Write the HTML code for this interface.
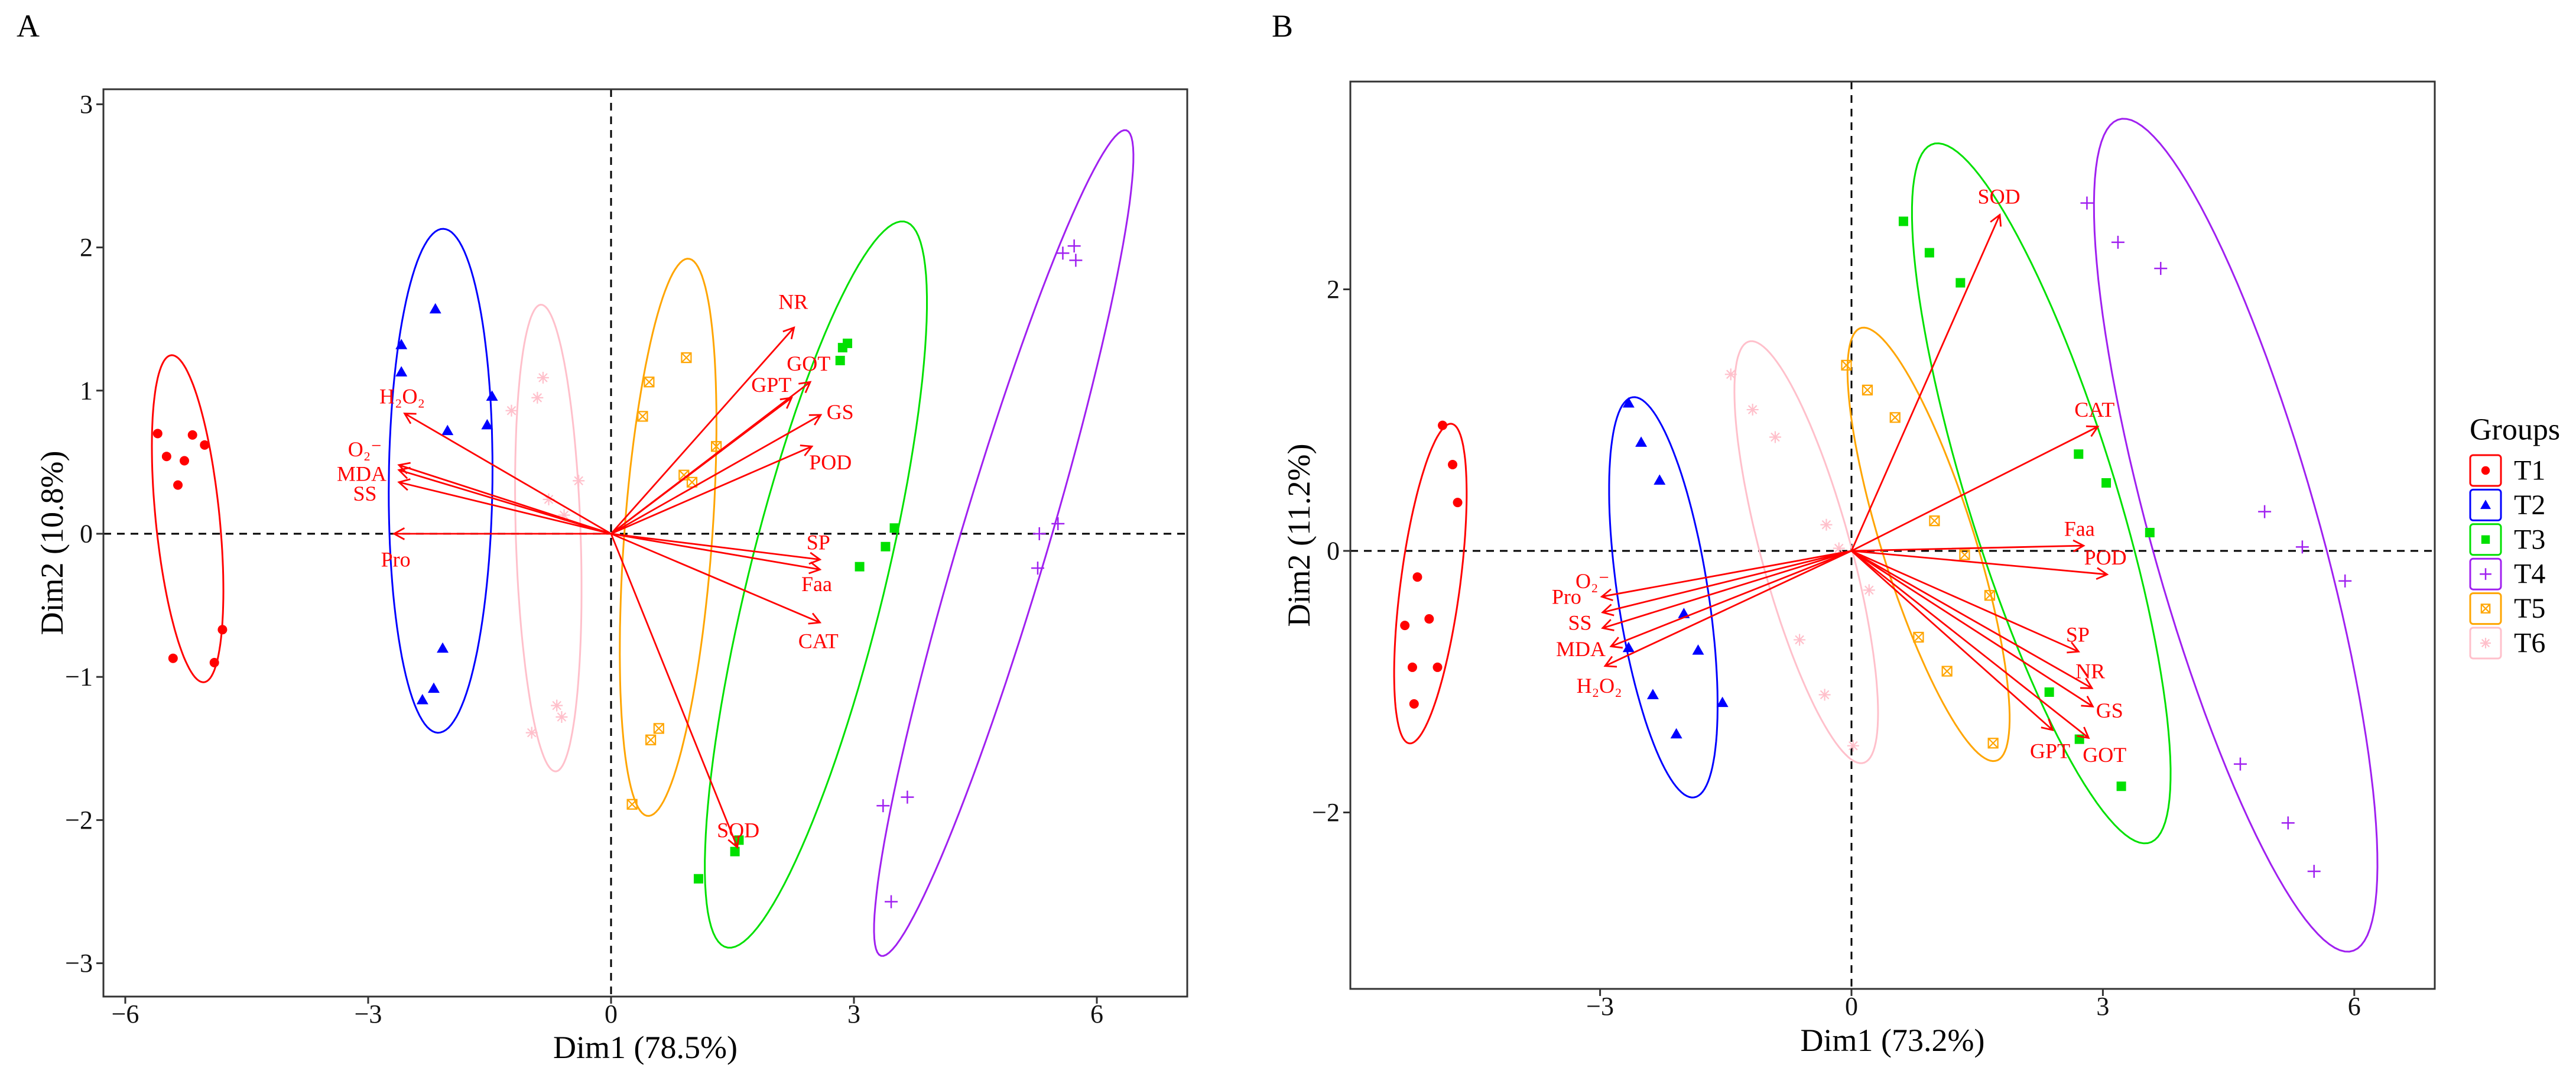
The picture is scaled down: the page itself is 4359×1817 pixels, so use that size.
<!DOCTYPE html>
<html><head><meta charset="utf-8">
<style>
html,body{margin:0;padding:0;background:#fff;}
svg{display:block;}
svg text{font-family:"Liberation Serif","DejaVu Serif",serif;}
</style></head>
<body>
<svg id="chart" width="4359" height="1817" viewBox="0 0 4359 1817" xmlns="http://www.w3.org/2000/svg" font-family="Liberation Serif, DejaVu Serif, serif">
<defs>
<clipPath id="clipA"><rect x="175" y="151" width="1834" height="1535"/></clipPath>
<clipPath id="clipB"><rect x="2285" y="138" width="1835" height="1535"/></clipPath>
</defs>
<text x="28" y="62" font-size="54" font-family="Liberation Serif, serif">A</text>
<text x="2152" y="62" font-size="54" font-family="Liberation Serif, serif">B</text>
<g id="gA"></g>
<g id="gB"></g>
<g id="legend"></g>
</svg>
<script>
const groups = ['T1','T2','T3','T4','T5','T6'];
const groupColors = ['#ff0000','#0000ff','#00e000','#a020f0','#ffa500','#ffc0cb'];

// Panel A individuals
const ptsAx = [
 [-5.60,-5.49,-5.35,-5.27,-5.17,-5.02,-5.41,-4.90,-4.80],
 [-2.17,-2.59,-2.59,-1.47,-2.02,-1.53,-2.08,-2.19,-2.33],
 [2.92,2.86,2.83,3.50,3.39,3.07,1.58,1.53,1.08],
 [5.58,5.72,5.74,5.29,5.52,5.27,3.66,3.36,3.46],
 [0.93,0.47,0.39,1.30,0.90,1.00,0.59,0.49,0.26],
 [-0.84,-0.91,-1.23,-0.40,-0.77,-0.58,-0.67,-0.61,-0.98]];
const ptsAy = [
 [0.70,0.54,0.34,0.51,0.69,0.62,-0.87,-0.90,-0.67],
 [1.57,1.32,1.13,0.96,0.72,0.76,-0.80,-1.08,-1.16],
 [1.33,1.30,1.21,0.04,-0.09,-0.23,-2.14,-2.22,-2.41],
 [1.96,2.01,1.91,0.00,0.07,-0.24,-1.84,-1.90,-2.57],
 [1.23,1.06,0.82,0.61,0.41,0.36,-1.36,-1.44,-1.89],
 [1.09,0.95,0.86,0.37,0.24,0.13,-1.20,-1.28,-1.39]];
const ellACx = [-5.23,-2.105,2.53,4.85,0.705,-0.775];
const ellACy = [0.105,0.37,-0.355,-0.065,-0.025,-0.03];
const ellADx = [-0.22,0.035,1.17,1.54,0.265,-0.095];
const ellADy = [1.14,1.76,2.515,2.875,1.945,1.63];
const ellAB  = [0.39,0.64,0.79,0.50,0.54,0.40];
const varsA = ['NR','GOT','GPT','GS','POD','H₂O₂','O₂⁻','MDA','SS','Pro','SP','Faa','CAT','SOD'];
const varAx = [2.26,2.46,2.23,2.59,2.48,-2.55,-2.62,-2.62,-2.62,-2.68,2.58,2.58,2.58,1.56];
const varAy = [1.44,1.06,0.95,0.83,0.61,0.84,0.48,0.445,0.36,0.0,-0.18,-0.25,-0.62,-2.19];
const labAx = [2.25,2.44,1.98,2.83,2.71,-2.58,-3.04,-3.08,-3.04,-2.66,2.56,2.54,2.56,1.57];
const labAy = [1.62,1.19,1.04,0.85,0.50,0.96,0.59,0.42,0.28,-0.18,-0.06,-0.35,-0.75,-2.07];
const ticksAx = [-6,-3,0,3,6];
const ticksAy = [-3,-2,-1,0,1,2,3];

// Panel B individuals
const ptsBx = [
 [-4.88,-4.76,-4.70,-5.18,-5.33,-5.04,-5.24,-4.94,-5.22],
 [-2.66,-2.51,-2.29,-2.00,-2.66,-1.83,-2.37,-2.09,-1.54],
 [0.62,0.93,1.30,2.71,3.04,3.56,2.36,2.72,3.22],
 [2.81,3.18,3.69,4.93,5.38,5.89,4.64,5.21,5.52],
 [-0.06,0.19,0.52,0.99,1.35,1.65,0.80,1.14,1.69],
 [-1.44,-1.18,-0.91,-0.30,-0.15,0.21,-0.62,-0.32,0.02]];
const ptsBy = [
 [0.96,0.66,0.37,-0.20,-0.57,-0.52,-0.89,-0.89,-1.17],
 [1.13,0.83,0.54,-0.48,-0.74,-0.76,-1.10,-1.40,-1.16],
 [2.52,2.28,2.05,0.74,0.52,0.14,-1.08,-1.44,-1.80],
 [2.66,2.36,2.16,0.30,0.03,-0.23,-1.63,-2.08,-2.45],
 [1.42,1.23,1.02,0.23,-0.03,-0.34,-0.66,-0.92,-1.47],
 [1.35,1.08,0.87,0.20,0.02,-0.30,-0.68,-1.10,-1.49]];
const ellBCx = [-5.025,-2.245,2.265,4.585,0.92,-0.54];
const ellBCy = [-0.25,-0.355,0.44,0.12,0.05,-0.01];
const ellBDx = [0.265,-0.395,-1.355,-1.455,-0.85,-0.72];
const ellBDy = [1.22,1.525,2.65,3.16,1.64,1.6];
const ellBB  = [0.35,0.53,0.83,0.95,0.52,0.51];
const varsB = ['SOD','CAT','Faa','POD','SP','NR','GS','GOT','GPT','O₂⁻','Pro','SS','MDA','H₂O₂'];
const varBx = [1.77,2.94,2.77,3.05,2.71,2.87,2.88,2.83,2.40,-2.98,-2.97,-2.97,-2.87,-2.94];
const varBy = [2.57,0.95,0.04,-0.18,-0.77,-1.05,-1.19,-1.43,-1.37,-0.35,-0.47,-0.59,-0.73,-0.88];
const labBx = [1.76,2.90,2.72,3.03,2.70,2.85,3.08,3.02,2.37,-3.09,-3.40,-3.24,-3.23,-3.01];
const labBy = [2.71,1.08,0.17,-0.05,-0.64,-0.92,-1.22,-1.56,-1.53,-0.23,-0.35,-0.55,-0.75,-1.03];
const ticksBx = [-3,0,3,6];
const ticksBy = [-2,0,2];

const NS='http://www.w3.org/2000/svg';
const FF='Liberation Serif, DejaVu Serif, serif';
function mk(tag, parent, attrs){const e=document.createElementNS(NS,tag);for(const k in attrs)e.setAttribute(k,attrs[k]);if(tag==='text')e.setAttribute('font-family',FF);parent.appendChild(e);return e;}

function marker(parent, gi, cx, cy, scale){
  const c=groupColors[gi]; const s=scale||1; let g;
  if(gi===0){g=mk('circle',parent,{cx:cx,cy:cy,r:8*s,fill:c});}
  else if(gi===1){const h=10*s;g=mk('polygon',parent,{points:`${cx},${cy-h} ${cx-h},${cy+h*0.75} ${cx+h},${cy+h*0.75}`,fill:c});}
  else if(gi===2){const h=8*s;g=mk('rect',parent,{x:cx-h,y:cy-h,width:2*h,height:2*h,fill:c});}
  else if(gi===3){const h=11*s;g=mk('path',parent,{d:`M${cx-h},${cy}H${cx+h}M${cx},${cy-h}V${cy+h}`,stroke:c,'stroke-width':2.5,fill:'none'});}
  else if(gi===4){const h=8*s;g=mk('path',parent,{d:`M${cx-h},${cy-h}h${2*h}v${2*h}h${-2*h}zM${cx-h},${cy-h}L${cx+h},${cy+h}M${cx+h},${cy-h}L${cx-h},${cy+h}`,stroke:c,'stroke-width':2.2,fill:'none'});}
  else {const h=10*s;g=mk('path',parent,{d:`M${cx-h},${cy}H${cx+h}M${cx},${cy-h}V${cy+h}M${cx-h*0.7},${cy-h*0.7}L${cx+h*0.7},${cy+h*0.7}M${cx+h*0.7},${cy-h*0.7}L${cx-h*0.7},${cy+h*0.7}`,stroke:c,'stroke-width':2.2,fill:'none'});}
  return g;
}

function drawPanel(g, P, D){
  const X=v=>P.x0+v*P.ux, Y=v=>P.y0-v*P.uy;
  const clip=mk('g',g,{'clip-path':`url(#${P.clip})`});
  const hl=mk('line',clip,{x1:P.L,x2:P.R,y1:Y(0),y2:Y(0),stroke:'#000','stroke-width':3,'stroke-dasharray':'13,10'});
  
  
  const vl=mk('line',clip,{x1:X(0),x2:X(0),y1:P.T,y2:P.B,stroke:'#000','stroke-width':3,'stroke-dasharray':'13,10'});
  
  
  for(let i=0;i<groups.length;i++){
    const a=Math.hypot(D.edx[i],D.edy[i]); const ux=D.edx[i]/a, uy=D.edy[i]/a;
    let d='';
    for(let k=0;k<=120;k++){const t=k/120*2*Math.PI;
      const px=D.ecx[i]+a*Math.cos(t)*ux-D.eb[i]*Math.sin(t)*uy;
      const py=D.ecy[i]+a*Math.cos(t)*uy+D.eb[i]*Math.sin(t)*ux;
      d+=(k?'L':'M')+X(px).toFixed(1)+','+Y(py).toFixed(1);}
    const e=mk('path',clip,{d:d+'Z',fill:'none',stroke:groupColors[i],'stroke-width':3});
    
    
  }
  for(let i=0;i<groups.length;i++){
    for(let j=0;j<D.px[i].length;j++){
      const m=marker(clip,i,X(D.px[i][j]),Y(D.py[i][j]));
      
      
    }
  }
  for(let i=0;i<D.vars.length;i++){
    const x1=X(0),y1=Y(0),x2=X(D.vx[i]),y2=Y(D.vy[i]);
    const ang=Math.atan2(y2-y1,x2-x1), hl2=20, ha=0.5;
    const a1x=x2-hl2*Math.cos(ang-ha), a1y=y2-hl2*Math.sin(ang-ha);
    const a2x=x2-hl2*Math.cos(ang+ha), a2y=y2-hl2*Math.sin(ang+ha);
    const ar=mk('path',g,{d:`M${x1},${y1}L${x2},${y2}M${a1x},${a1y}L${x2},${y2}L${a2x},${a2y}`,stroke:'#ff0000','stroke-width':2.8,fill:'none'});
    
    
    const tx=mk('text',g,{x:X(D.lx[i]),y:Y(D.ly[i]),'text-anchor':'middle','dominant-baseline':'central','font-size':36,fill:'#ff0000'});
    tx.textContent=D.vars[i];
    
    
  }
  const fr=mk('rect',g,{x:P.L,y:P.T,width:P.R-P.L,height:P.B-P.T,fill:'none',stroke:'#333','stroke-width':3});
  
  
  for(const t of D.tx){
    mk('line',g,{x1:X(t),x2:X(t),y1:P.B,y2:P.B+12,stroke:'#333','stroke-width':3});
    const tl=mk('text',g,{x:X(t),y:P.B+44,'text-anchor':'middle','font-size':44,fill:'#111'});
    tl.textContent=t<0?'\u2212'+(-t):String(t);
    
    
  }
  for(const t of D.ty){
    mk('line',g,{x1:P.L-12,x2:P.L,y1:Y(t),y2:Y(t),stroke:'#333','stroke-width':3});
    const tl=mk('text',g,{x:P.L-18,y:Y(t),'text-anchor':'end','dominant-baseline':'central','font-size':44,fill:'#111'});
    tl.textContent=t<0?'\u2212'+(-t):String(t);
    
    
  }
  const xt=mk('text',g,{x:(P.L+P.R)/2,y:P.xty,'text-anchor':'middle','dominant-baseline':'central','font-size':54,fill:'#000'});
  xt.textContent=P.xTitle;
  
  
  const yt=mk('text',g,{x:P.ytx,y:(P.T+P.B)/2,'text-anchor':'middle','dominant-baseline':'central','font-size':54,fill:'#000',transform:`rotate(-90 ${P.ytx} ${(P.T+P.B)/2})`});
  yt.textContent=P.yTitle;
  
  
}

drawPanel(document.getElementById('gA'),
 {x0:1034,ux:137,y0:903,uy:242.2,L:175,R:2009,T:151,B:1686,clip:'clipA',xty:1772,ytx:88,xTitle:'Dim1 (78.5%)',yTitle:'Dim2 (10.8%)'},
 {px:ptsAx,py:ptsAy,ecx:ellACx,ecy:ellACy,edx:ellADx,edy:ellADy,eb:ellAB,vars:varsA,vx:varAx,vy:varAy,lx:labAx,ly:labAy,tx:ticksAx,ty:ticksAy});
drawPanel(document.getElementById('gB'),
 {x0:3133,ux:141.8,y0:932,uy:221.25,L:2285,R:4120,T:138,B:1673,clip:'clipB',xty:1760,ytx:2198,xTitle:'Dim1 (73.2%)',yTitle:'Dim2 (11.2%)'},
 {px:ptsBx,py:ptsBy,ecx:ellBCx,ecy:ellBCy,edx:ellBDx,edy:ellBDy,eb:ellBB,vars:varsB,vx:varBx,vy:varBy,lx:labBx,ly:labBy,tx:ticksBx,ty:ticksBy});

const lg=document.getElementById('legend');
const lt=mk('text',lg,{x:4179,y:727,'dominant-baseline':'central','font-size':52,fill:'#000'});
lt.textContent='Groups';


for(let i=0;i<groups.length;i++){
  const cy=796+i*58.4;
  const item=mk('g',lg,{});
  
  
  mk('rect',item,{x:4180,y:cy-26,width:52,height:52,rx:5,fill:'#fff',stroke:groupColors[i],'stroke-width':3});
  marker(item,i,4206,cy,0.9);
  const t=mk('text',item,{x:4254,y:cy,'dominant-baseline':'central','font-size':48,fill:'#000'});
  t.textContent=groups[i];
}
</script>
</body></html>
